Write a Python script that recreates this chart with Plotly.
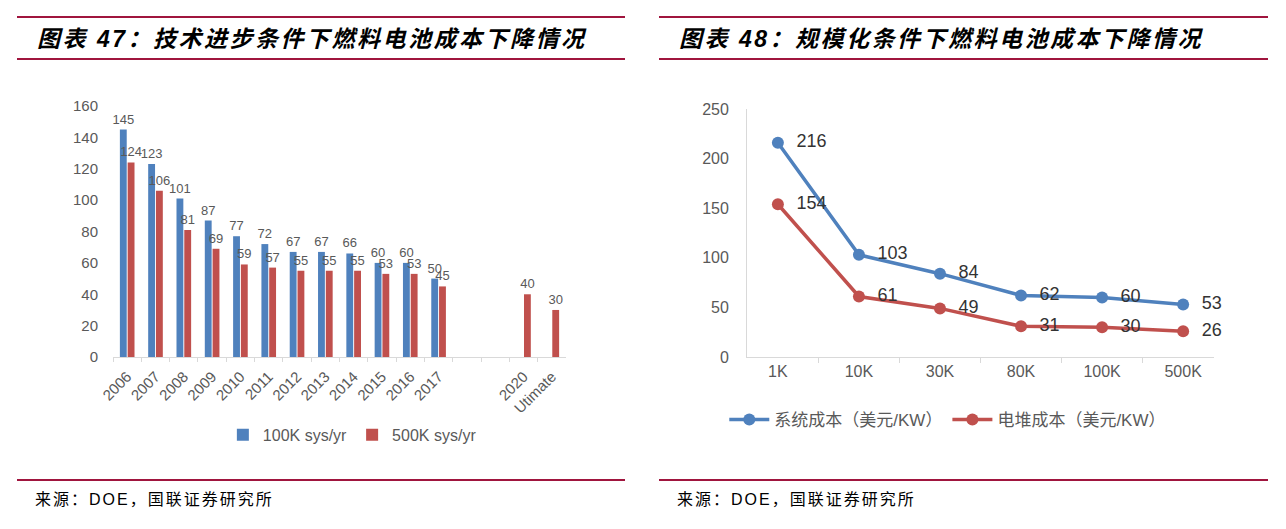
import plotly.graph_objects as go

# chart 47 data
years = ["2006", "2007", "2008", "2009", "2010", "2011", "2012", "2013", "2014",
         "2015", "2016", "2017", " ", "  ", "2020", "Utimate"]
cost_100k = [145, 123, 101, 87, 77, 72, 67, 67, 66, 60, 60, 50, None, None, None, None]
cost_500k = [124, 106, 81, 69, 59, 57, 55, 55, 55, 53, 53, 45, None, None, 40, 30]

# chart 48 data
scale = ["1K", "10K", "30K", "80K", "100K", "500K"]
system_cost = [216, 103, 84, 62, 60, 53]
stack_cost = [154, 61, 49, 31, 30, 26]

BLUE = "#4F81BD"
RED = "#C0504D"
GRAY = "#595959"
DARKRED = "#A0153E"
FONT = "Liberation Sans, Noto Sans CJK SC"

fig = go.Figure()

fig.add_trace(go.Bar(x=years, y=cost_100k, name="100K sys/yr", marker_color=BLUE,
                     text=cost_100k, textposition="outside", constraintext="none",
                     cliponaxis=False, textfont=dict(size=13, color=GRAY),
                     xaxis="x", yaxis="y", legend="legend"))
fig.add_trace(go.Bar(x=years, y=cost_500k, name="500K sys/yr", marker_color=RED,
                     text=cost_500k, textposition="outside", constraintext="none",
                     cliponaxis=False, textfont=dict(size=13, color=GRAY),
                     xaxis="x", yaxis="y", legend="legend"))

# nbsp pads the point labels a little away from the markers
fig.add_trace(go.Scatter(x=scale, y=system_cost, name="系统成本（美元/KW）",
                         mode="lines+markers+text", text=system_cost,
                         texttemplate="\u00a0\u00a0%{text}", textposition="middle right",
                         textfont=dict(size=18, color="#333333"),
                         line=dict(color=BLUE, width=3.5), marker=dict(size=12, color=BLUE),
                         cliponaxis=False, xaxis="x2", yaxis="y2", legend="legend2"))
fig.add_trace(go.Scatter(x=scale, y=stack_cost, name="电堆成本（美元/KW）",
                         mode="lines+markers+text", text=stack_cost,
                         texttemplate="\u00a0\u00a0%{text}", textposition="middle right",
                         textfont=dict(size=18, color="#333333"),
                         line=dict(color=RED, width=3.5), marker=dict(size=12, color=RED),
                         cliponaxis=False, xaxis="x2", yaxis="y2", legend="legend2"))

axis_line = "#D9D9D9"

fig.update_layout(
    template="none",
    width=1286, height=529, margin=dict(l=0, r=0, t=0, b=0, pad=0, autoexpand=False),
    paper_bgcolor="white", plot_bgcolor="white",
    font=dict(family=FONT, color=GRAY),
    barmode="group", bargap=0.45, bargroupgap=0.12,
    xaxis=dict(domain=[0.0879, 0.4401], anchor="y", type="category", automargin=False,
               tickangle=-45, tickson="boundaries", ticks="outside", ticklen=4,
               tickcolor=axis_line, showline=True, linecolor=axis_line,
               tickfont=dict(size=15, color=GRAY), ticklabelstandoff=4,
               showgrid=False, zeroline=False),
    yaxis=dict(domain=[0.3251, 0.7996], anchor="x", range=[0, 160], dtick=20,
               automargin=False, showgrid=False, zeroline=False, showline=False,
               ticks="", tickfont=dict(size=15, color=GRAY), ticklabelstandoff=14),
    xaxis2=dict(domain=[0.5809, 0.9440], anchor="y2", type="category", automargin=False,
                tickson="boundaries", ticks="outside", ticklen=5,
                tickcolor=axis_line, showline=True, linecolor=axis_line,
                tickfont=dict(size=16, color=GRAY), showgrid=False, zeroline=False),
    yaxis2=dict(domain=[0.3251, 0.7940], anchor="x2", range=[0, 250], dtick=50,
                automargin=False, showgrid=False, zeroline=False, showline=True,
                linecolor=axis_line, ticks="",
                tickfont=dict(size=16, color=GRAY), ticklabelstandoff=14),
    legend=dict(orientation="h", x=0.274, y=0.178, xanchor="center", yanchor="middle",
                font=dict(size=16, color=GRAY), itemwidth=30, bgcolor="rgba(0,0,0,0)"),
    legend2=dict(orientation="h", x=0.737, y=0.206, xanchor="center", yanchor="middle",
                 font=dict(size=17, color=GRAY), itemwidth=40, bgcolor="rgba(0,0,0,0)"),
)

# title bars, titles and source lines
for x0, x1, title in [(17, 625, "图表 47：技术进步条件下燃料电池成本下降情况"),
                      (659, 1268, "图表 48：规模化条件下燃料电池成本下降情况")]:
    for yy in [17, 59, 480]:
        fig.add_shape(type="line", xref="paper", yref="paper",
                      x0=x0 / 1286, x1=x1 / 1286, y0=1 - yy / 529, y1=1 - yy / 529,
                      line=dict(color=DARKRED, width=2))
    fig.add_annotation(xref="paper", yref="paper", x=(x0 + 18) / 1286, y=1 - 39 / 529,
                       xanchor="left", yanchor="middle", showarrow=False,
                       text='<span style="letter-spacing:2.5px"><b><i>' + title + "</i></b></span>",
                       font=dict(size=23, color="black", family=FONT))
    fig.add_annotation(xref="paper", yref="paper", x=(x0 + 16) / 1286, y=1 - 499 / 529,
                       xanchor="left", yanchor="middle", showarrow=False,
                       text='<span style="letter-spacing:2px">来源：DOE，国联证券研究所</span>',
                       font=dict(size=16, color="black", family=FONT))

fig.write_html("out.html", config={"displayModeBar": False},
               post_script="document.body.style.margin='0';")
